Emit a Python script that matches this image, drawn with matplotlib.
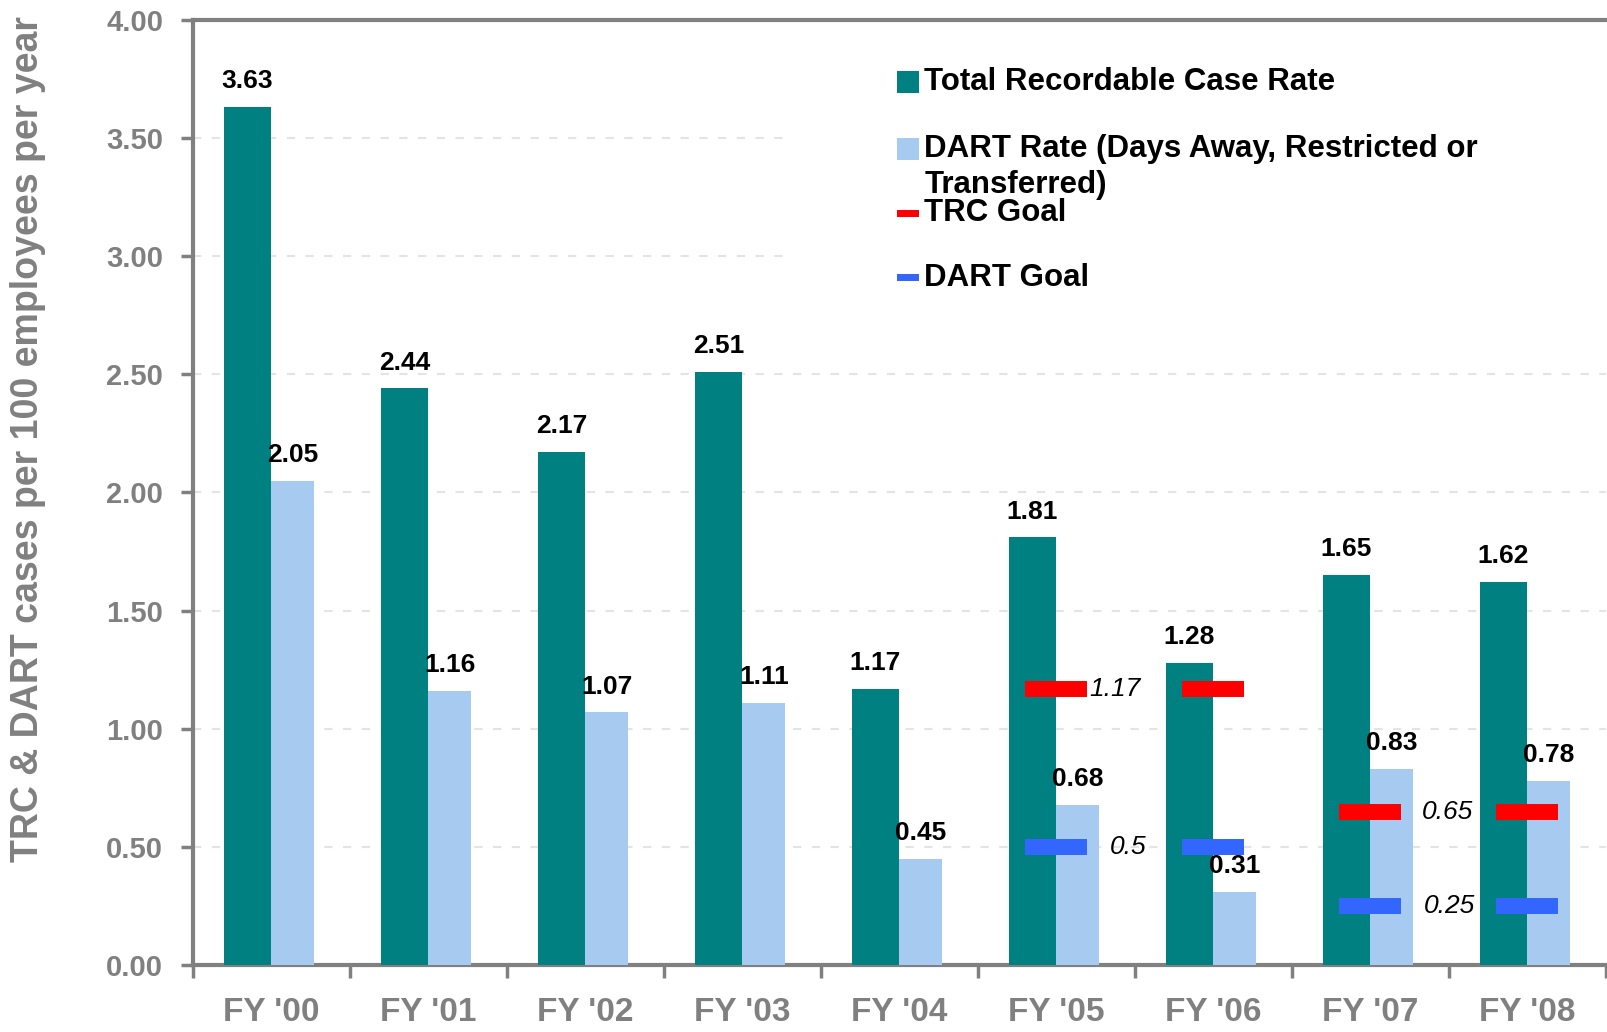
import matplotlib
matplotlib.use('Agg')
import matplotlib.pyplot as plt
from matplotlib.patches import Rectangle
import numpy as np

plt.rcParams['font.family'] = ['Liberation Sans', 'DejaVu Sans']

# Data
years = ["FY '00", "FY '01", "FY '02", "FY '03", "FY '04", "FY '05", "FY '06", "FY '07", "FY '08"]
trc_rate = [3.63, 2.44, 2.17, 2.51, 1.17, 1.81, 1.28, 1.65, 1.62]
dart_rate = [2.05, 1.16, 1.07, 1.11, 0.45, 0.68, 0.31, 0.83, 0.78]

# goals only exist from FY '05 on
goal_idx = [5, 6, 7, 8]
trc_goal = [1.17, 1.17, 0.65, 0.65]
dart_goal = [0.5, 0.5, 0.25, 0.25]
goal_labeled = [True, False, True, False]

TEAL = '#008080'
LIGHT = '#a6caf0'
RED = '#ff0000'
BLUE = '#3366ff'
GRAY = '#808080'

fig = plt.figure(figsize=(16.07, 10.32), dpi=100)
ax = fig.add_axes([0.1198, 0.0645, 0.8793, 0.9166])

x = np.arange(len(years))
ax.bar(x, trc_rate, width=-0.30, align='edge', color=TEAL, zorder=3)
ax.bar(x, dart_rate, width=0.275, align='edge', color=LIGHT, zorder=3)

# value labels
for xi, v in zip(x, trc_rate):
    ax.annotate(f'{v:.2f}', (xi - 0.15, v), xytext=(0, 10), textcoords='offset points',
                ha='center', va='bottom', fontsize=19, fontweight='bold', zorder=5)
for xi, v in zip(x, dart_rate):
    ax.annotate(f'{v:.2f}', (xi + 0.14, v), xytext=(0, 10), textcoords='offset points',
                ha='center', va='bottom', fontsize=19, fontweight='bold', zorder=5)

# goal markers
gx = np.array(goal_idx)
ax.hlines(trc_goal, gx - 0.2, gx + 0.2, colors=RED, lw=11.5, zorder=4)
ax.hlines(dart_goal, gx - 0.2, gx + 0.2, colors=BLUE, lw=11.5, zorder=4)
for xi, tg, dg, lab in zip(gx, trc_goal, dart_goal, goal_labeled):
    if lab:
        # the 1.17 label sits tight against its marker in the original
        tx = xi + 0.21 if tg > 1 else xi + 0.33
        ax.text(tx, tg, f'{tg:g}', ha='left', va='center', fontsize=19,
                style='italic', zorder=5)
        ax.text(xi + 0.34, dg, f'{dg:g}', ha='left', va='center', fontsize=19,
                style='italic', zorder=5)

# axes styling
ax.set_ylim(0, 4)
ax.set_xlim(-0.5, 8.5)
ax.set_yticks(np.arange(0, 4.01, 0.5))
ax.set_yticklabels([f'{t:.2f}' for t in np.arange(0, 4.01, 0.5)])
ax.set_xticks(np.arange(-0.5, 8.6, 1))
ax.set_xticklabels([])
ax.set_xticks(x, minor=True)
ax.set_xticklabels(years, minor=True)
ax.tick_params(axis='x', which='major', direction='out', length=9, width=2.5, color=GRAY)
ax.tick_params(axis='x', which='minor', length=0, pad=23, labelsize=24, labelcolor=GRAY)
ax.tick_params(axis='y', direction='out', length=9, width=2.5, color=GRAY, pad=12,
               labelsize=21, labelcolor=GRAY)
for lbl in ax.get_yticklabels() + ax.get_xticklabels(minor=True):
    lbl.set_fontweight('bold')

for side in ['left', 'bottom', 'top']:
    ax.spines[side].set_color(GRAY)
    ax.spines[side].set_linewidth(3)
ax.spines['right'].set_visible(False)

ax.yaxis.grid(True, color='#e4e4e4', linestyle=(0, (4, 5)), lw=1.5)
ax.set_axisbelow(True)

ax.set_ylabel('TRC & DART cases per 100 employees per year', fontsize=27,
              fontweight='bold', color=GRAY)
ax.yaxis.set_label_coords(-0.104, 0.556)

# legend drawn by hand, white box hides the grid behind it
ax.add_patch(Rectangle((0.42, 0.70), 0.58, 0.295, transform=ax.transAxes,
                       facecolor='white', edgecolor='none', zorder=1))
leg_x = 0.4986
leg_items = [
    ('Total Recordable Case Rate', TEAL, 0.934, 'box'),
    ('DART Rate (Days Away, Restricted or', LIGHT, 0.863, 'box'),
    ('Transferred)', None, 0.825, None),
    ('TRC Goal', RED, 0.795, 'line'),
    ('DART Goal', BLUE, 0.727, 'line'),
]
for label, col, yy, kind in leg_items:
    if kind == 'box':
        ax.add_patch(Rectangle((leg_x, yy - 0.0117), 0.0156, 0.0233, transform=ax.transAxes,
                               facecolor=col, edgecolor='none', zorder=5, clip_on=False))
    elif kind == 'line':
        ax.add_patch(Rectangle((leg_x, yy - 0.0035), 0.0156, 0.007, transform=ax.transAxes,
                               facecolor=col, edgecolor='none', zorder=5, clip_on=False))
    ax.text(0.518, yy, label, transform=ax.transAxes, ha='left', va='center',
            fontsize=22.5, fontweight='bold', zorder=6)

fig.savefig('out.png', dpi=100)
